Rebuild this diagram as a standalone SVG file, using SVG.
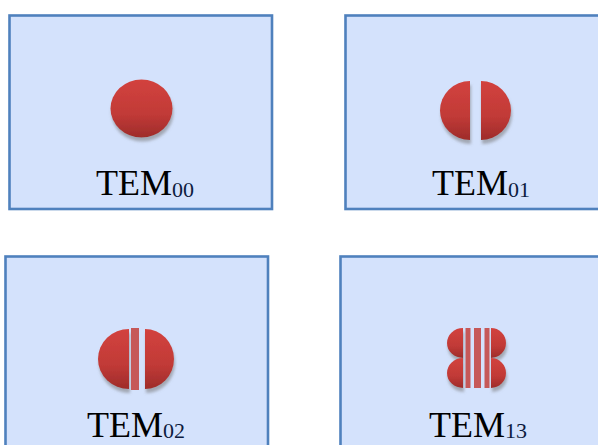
<svg xmlns="http://www.w3.org/2000/svg" width="598" height="445" viewBox="0 0 598 445">
  <style>
    .panel { fill: #d4e2fc; stroke: #4f81bd; stroke-width: 2.6; }
    .lobe { fill: url(#redGrad); filter: url(#shade); }
    .bar { fill: #c65858; }
    .lbl { font-family: "Liberation Serif", "Times New Roman", serif; font-size: 36px; fill: #000; }
    .sub { font-size: 22px; fill: #0d1b3e; }
  </style>
  <defs>
    <linearGradient id="redGrad" x1="0" y1="0" x2="0" y2="1">
      <stop offset="0" stop-color="#d2423e"/>
      <stop offset="0.6" stop-color="#c13a37"/>
      <stop offset="1" stop-color="#9e2c2a"/>
    </linearGradient>
    <filter id="shade" x="-30%" y="-30%" width="160%" height="160%">
      <feDropShadow dx="1" dy="4" stdDeviation="1.5" flood-color="#777777" flood-opacity="0.55"/>
    </filter>
  </defs>

  <!-- TEM00 panel -->
  <g id="tem00">
    <rect class="panel" x="9.5" y="15.5" width="262.5" height="193.5"/>
    <ellipse class="lobe" cx="141.5" cy="108.5" rx="31" ry="29"/>
    <text class="lbl" x="96" y="195">TEM<tspan class="sub" dy="1.5">00</tspan></text>
  </g>

  <!-- TEM01 panel -->
  <g id="tem01">
    <rect class="panel" x="345.5" y="15.5" width="262" height="193.5"/>
    <path class="lobe" d="M470,81 A30,29.5 0 0 0 470,140 Z"/>
    <path class="lobe" d="M481,81 A30,29.5 0 0 1 481,140 Z"/>
    <text class="lbl" x="432" y="195">TEM<tspan class="sub" dy="1.5">01</tspan></text>
  </g>

  <!-- TEM02 panel -->
  <g id="tem02">
    <rect class="panel" x="5.5" y="256.5" width="262.5" height="200"/>
    <path class="lobe" d="M129,329 A31,30 0 0 0 129,389 Z"/>
    <path class="lobe" d="M145,329 A29,30 0 0 1 145,389 Z"/>
    <rect class="bar" x="131" y="328" width="8" height="62"/>
    <text class="lbl" x="87" y="436.5">TEM<tspan class="sub" dy="1.5">02</tspan></text>
  </g>

  <!-- TEM13 panel -->
  <g id="tem13">
    <rect class="panel" x="340.5" y="256.5" width="270" height="200"/>
    <path class="lobe" d="M463,328 A16,15 0 0 0 463,358 Z"/>
    <path class="lobe" d="M463,358 A16,15 0 0 0 463,388 Z"/>
    <path class="lobe" d="M491,328 A15,15 0 0 1 491,358 Z"/>
    <path class="lobe" d="M491,358 A15,15 0 0 1 491,388 Z"/>
    <rect class="bar" x="465.5" y="328" width="5" height="60"/>
    <rect class="bar" x="474" y="328" width="7" height="60"/>
    <rect class="bar" x="484.5" y="328" width="5" height="60"/>
    <text class="lbl" x="429" y="436.5">TEM<tspan class="sub" dy="1.5">13</tspan></text>
  </g>
</svg>
